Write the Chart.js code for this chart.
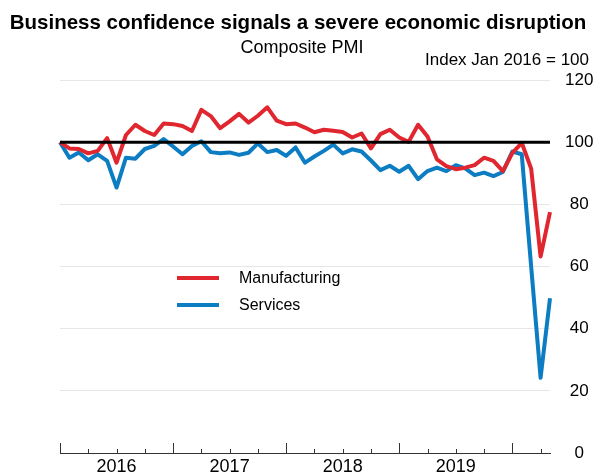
<!DOCTYPE html>
<html>
<head>
<meta charset="utf-8">
<title>Business confidence</title>
<script src="https://cdn.jsdelivr.net/npm/chart.js@4"></script>
<style>
  html, body { margin: 0; padding: 0; background: #fff; }
  #wrap { width: 604px; height: 475px; position: relative; }
</style>
</head>
<body>
<div id="wrap"><canvas id="pmiChart"></canvas></div>
<script>
// Composite PMI, index Jan 2016 = 100, monthly Jan 2016 - May 2020
const months = [
  'Jan 2016','Feb 2016','Mar 2016','Apr 2016','May 2016','Jun 2016','Jul 2016','Aug 2016','Sep 2016','Oct 2016','Nov 2016','Dec 2016',
  'Jan 2017','Feb 2017','Mar 2017','Apr 2017','May 2017','Jun 2017','Jul 2017','Aug 2017','Sep 2017','Oct 2017','Nov 2017','Dec 2017',
  'Jan 2018','Feb 2018','Mar 2018','Apr 2018','May 2018','Jun 2018','Jul 2018','Aug 2018','Sep 2018','Oct 2018','Nov 2018','Dec 2018',
  'Jan 2019','Feb 2019','Mar 2019','Apr 2019','May 2019','Jun 2019','Jul 2019','Aug 2019','Sep 2019','Oct 2019','Nov 2019','Dec 2019',
  'Jan 2020','Feb 2020','Mar 2020','Apr 2020','May 2020'
];

const manufacturing = [
  100, 98, 97.8, 96.4, 97.2, 101.3, 93.4, 102.3, 105.6, 103.6, 102.3, 106,
  105.8, 105.2, 103.6, 110.4, 108.4, 104.5, 106.7, 109.1, 106.3, 108.5, 111.2, 106.9,
  105.8, 106, 104.7, 103.2, 104, 103.7, 103.3, 101.5, 102.8, 98, 102.6, 104,
  101.5, 100.1, 105.6, 101.8, 94.5, 92.3, 91.3, 91.8, 92.6, 95, 94, 90.7,
  96.5, 99.8, 91.5, 63.2, 77.5
];

const services = [
  100, 95, 96.7, 94.2, 96.1, 94, 85.4, 95, 94.7, 97.8, 98.8, 101,
  98.6, 96.1, 98.8, 100.3, 96.8, 96.4, 96.7, 95.9, 96.6, 99.6, 96.8, 97.5,
  95.6, 98.3, 93.4, 95.4, 97.2, 99.2, 96.4, 97.7, 97, 94.1, 91, 92.4,
  90.5, 92.4, 88.1, 90.7, 91.8, 90.7, 92.6, 91.6, 89.4, 90.2, 89.1, 90.4,
  97, 96.1, 60, 24.2, 49.8
];

const yTicks = [0, 20, 40, 60, 80, 100, 120];
const baseline = 100;

const FONT = "'Liberation Sans', Arial, sans-serif";

// title, subtitle and unit note
const headerPlugin = {
  id: 'header',
  afterDraw(chart) {
    const ctx = chart.ctx;
    ctx.save();
    ctx.fillStyle = '#000';
    ctx.textBaseline = 'alphabetic';
    ctx.font = 'bold 20.5px ' + FONT;
    ctx.textAlign = 'center';
    ctx.fillText('Business confidence signals a severe economic disruption', 298, 29);
    ctx.font = '18px ' + FONT;
    ctx.fillText('Composite PMI', 302, 53);
    ctx.font = '17px ' + FONT;
    ctx.textAlign = 'right';
    ctx.fillText('Index Jan 2016 = 100', 589, 65);
    ctx.restore();
  }
};

// black reference line at 100, drawn over the series
const baselinePlugin = {
  id: 'baseline',
  afterDatasetsDraw(chart) {
    const ctx = chart.ctx;
    const y = chart.scales.y.getPixelForValue(baseline);
    ctx.save();
    ctx.strokeStyle = '#000';
    ctx.lineWidth = 3;
    ctx.beginPath();
    ctx.moveTo(chart.chartArea.left, y);
    ctx.lineTo(chart.chartArea.right, y);
    ctx.stroke();
    ctx.restore();
  }
};

// quarterly tick marks pointing up from the x axis, longer at each January
const tickMarksPlugin = {
  id: 'tickMarks',
  afterDraw(chart) {
    const ctx = chart.ctx;
    const xs = chart.scales.x;
    const bottom = chart.chartArea.bottom;
    ctx.save();
    ctx.strokeStyle = '#333';
    ctx.lineWidth = 1;
    months.forEach(function(m, i) {
      const mon = m.slice(0, 3);
      if (['Jan', 'Apr', 'Jul', 'Oct'].indexOf(mon) < 0) return;
      const len = mon === 'Jan' ? 10 : 4;
      const x = Math.round(xs.getPixelForValue(i)) + 0.5;
      ctx.beginPath();
      ctx.moveTo(x, bottom);
      ctx.lineTo(x, bottom - len);
      ctx.stroke();
    });
    ctx.restore();
  }
};

// legend inside the plot area
const legendPlugin = {
  id: 'innerLegend',
  afterDraw(chart) {
    const ctx = chart.ctx;
    ctx.save();
    ctx.font = '16px ' + FONT;
    ctx.textBaseline = 'middle';
    ctx.textAlign = 'left';
    chart.data.datasets.forEach(function(ds, i) {
      const y = 278 + i * 27;
      ctx.strokeStyle = ds.borderColor;
      ctx.lineWidth = 4;
      ctx.beginPath();
      ctx.moveTo(177, y);
      ctx.lineTo(219, y);
      ctx.stroke();
      ctx.fillStyle = '#000';
      ctx.fillText(ds.label, 239, y + 1);
    });
    ctx.restore();
  }
};

const ctx = document.getElementById('pmiChart').getContext('2d');
new Chart(ctx, {
  type: 'line',
  data: {
    labels: months,
    datasets: [
      {
        label: 'Manufacturing',
        data: manufacturing,
        borderColor: '#e0262e',
        borderWidth: 4,
        borderJoinStyle: 'round',
        pointRadius: 0,
        tension: 0,
        fill: false
      },
      {
        label: 'Services',
        data: services,
        borderColor: '#0c7dc2',
        borderWidth: 4,
        borderJoinStyle: 'round',
        pointRadius: 0,
        tension: 0,
        fill: false
      }
    ]
  },
  options: {
    responsive: true,
    maintainAspectRatio: false,
    animation: false,
    layout: { padding: { top: 80, left: 60, right: 0, bottom: 0 } },
    plugins: {
      legend: { display: false },
      title: { display: false },
      tooltip: { enabled: false }
    },
    scales: {
      x: {
        type: 'category',
        offset: false,
        grid: { display: false, drawTicks: false },
        border: { display: true, color: '#333', width: 1 },
        ticks: {
          autoSkip: false,
          maxRotation: 0,
          padding: 3,
          color: '#000',
          font: { family: FONT, size: 18 },
          callback: function(value, index) {
            const m = months[index];
            return m.slice(0, 3) === 'Jul' ? m.slice(4) : '';
          }
        },
        afterFit: function(scale) { scale.height = 22; }
      },
      y: {
        position: 'right',
        min: 0,
        max: 120,
        afterBuildTicks: function(scale) {
          scale.ticks = yTicks.map(v => ({ value: v }));
        },
        grid: {
          drawTicks: false,
          color: function(c) {
            return (c.tick && (c.tick.value === 0 || c.tick.value === baseline)) ? 'rgba(0,0,0,0)' : '#e6e6e6';
          },
          lineWidth: 1
        },
        border: { display: false },
        ticks: {
          padding: 15,
          crossAlign: 'center',
          color: '#000',
          font: { family: FONT, size: 17 }
        },
        afterFit: function(scale) {
          scale.width = 54;
          // label padding should not push the plot area in
          scale.paddingTop = 0;
          scale.paddingBottom = 0;
        }
      }
    }
  },
  plugins: [headerPlugin, baselinePlugin, tickMarksPlugin, legendPlugin]
});
</script>
</body>
</html>
